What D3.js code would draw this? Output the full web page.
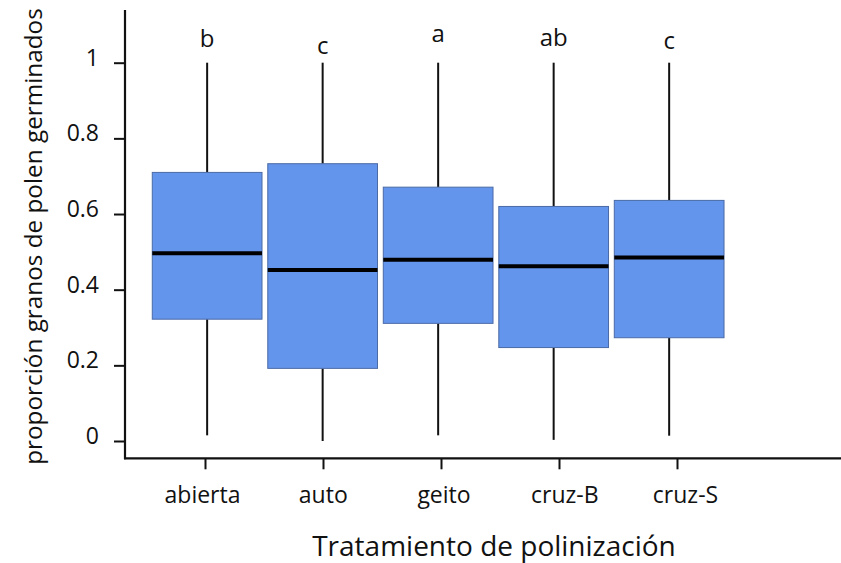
<!DOCTYPE html>
<html>
<head>
<meta charset="utf-8">
<script src="https://cdn.jsdelivr.net/npm/d3@7"></script>
<style>
  html, body { margin: 0; padding: 0; background: #fff; }
  svg { display: block; }
  text { font-family: "Open Sans", "Noto Sans", sans-serif; fill: #111; }
</style>
</head>
<body>
<svg id="chart" width="841" height="563"></svg>
<script>
// Treatments and box-plot summaries (proportion of germinated pollen grains)
const categories = ["abierta", "auto", "geito", "cruz-B", "cruz-S"];
const whiskerLow = [0.015, 0.0, 0.015, 0.003, 0.014];
const q1        = [0.322, 0.192, 0.311, 0.247, 0.273];
const medians   = [0.496, 0.452, 0.479, 0.462, 0.485];
const q3        = [0.710, 0.733, 0.671, 0.620, 0.636];
const whiskerHigh = [1.0, 1.0, 1.0, 1.0, 1.0];
const groupLetters = ["b", "c", "a", "ab", "c"];
const yTicks = [0, 0.2, 0.4, 0.6, 0.8, 1];

const rows = categories.map((c, i) => ({
  cat: c, lo: whiskerLow[i], q1: q1[i], med: medians[i], q3: q3[i], hi: whiskerHigh[i], letter: groupLetters[i]
}));

// baseline of each group letter (layout only)
const letterBaseline = [47, 54, 41.5, 46, 49];

const svg = d3.select("#chart");

const y = d3.scaleLinear().domain([0, 1]).range([441, 62.7]);
const x = d3.scaleBand().domain(categories).range([146.5, 729.8])
  .paddingInner(0.05).paddingOuter(0.05);
// tick marks and tick labels along the category axis
const xTickScale = d3.scalePoint().domain(categories).range([205, 677]);
const xLabelScale = d3.scalePoint().domain(categories).range([202, 685]);

const fill = "#6495ED";
const edge = "#4a6aa6";

// boxes
const g = svg.append("g");
const box = g.selectAll("g.box").data(rows).join("g").attr("class", "box");
const cx = d => x(d.cat) + x.bandwidth() / 2;

box.append("line")
  .attr("x1", cx).attr("x2", cx)
  .attr("y1", d => y(d.hi)).attr("y2", d => y(d.q3))
  .attr("stroke", "#111").attr("stroke-width", 2);
box.append("line")
  .attr("x1", cx).attr("x2", cx)
  .attr("y1", d => y(d.q1)).attr("y2", d => y(d.lo))
  .attr("stroke", "#111").attr("stroke-width", 2);
box.append("rect")
  .attr("x", d => x(d.cat)).attr("width", x.bandwidth())
  .attr("y", d => y(d.q3)).attr("height", d => y(d.q1) - y(d.q3))
  .attr("fill", fill).attr("stroke", edge).attr("stroke-width", 1);
box.append("line")
  .attr("x1", d => x(d.cat)).attr("x2", d => x(d.cat) + x.bandwidth())
  .attr("y1", d => y(d.med)).attr("y2", d => y(d.med))
  .attr("stroke", "#000").attr("stroke-width", 4);

// significance letters above each whisker
box.append("text")
  .attr("x", cx).attr("y", (d, i) => letterBaseline[i])
  .attr("text-anchor", "middle")
  .style("font-size", "24px")
  .text(d => d.letter);

// y axis
const yAxis = svg.append("g").attr("transform", "translate(125,0)")
  .call(d3.axisLeft(y).tickValues(yTicks).tickSize(11).tickPadding(15)
    .tickFormat(d => d === 0 ? "0" : d === 1 ? "1" : d3.format(".1f")(d)));
yAxis.select(".domain").remove();
yAxis.selectAll(".tick line").attr("stroke", "#111").attr("stroke-width", 2);
yAxis.selectAll(".tick text").style("font-size", "23px").attr("fill", "#111")
  .attr("dy", "0.32em").attr("y", -5);
svg.append("line").attr("x1", 125).attr("x2", 125).attr("y1", 10).attr("y2", 459.3)
  .attr("stroke", "#111").attr("stroke-width", 2.2);

// x axis: tick marks
const xAxis = svg.append("g").attr("transform", "translate(0,458.3)")
  .call(d3.axisBottom(xTickScale).tickSize(11).tickFormat(""));
xAxis.select(".domain").remove();
xAxis.selectAll(".tick line").attr("stroke", "#111").attr("stroke-width", 2);
// x axis: labels
const xLabels = svg.append("g").attr("transform", "translate(0,458.3)")
  .call(d3.axisBottom(xLabelScale).tickSize(0).tickPadding(28.4));
xLabels.select(".domain").remove();
xLabels.selectAll(".tick text").style("font-size", "23px").attr("fill", "#111");
svg.append("line").attr("x1", 124).attr("x2", 841).attr("y1", 458.3).attr("y2", 458.3)
  .attr("stroke", "#111").attr("stroke-width", 2.2);

// axis titles
svg.append("text")
  .attr("x", 494).attr("y", 555.7)
  .attr("text-anchor", "middle")
  .style("font-size", "28px")
  .text("Tratamiento de polinización");
svg.append("text")
  .attr("transform", "translate(41.5,236.5) rotate(-90)")
  .attr("text-anchor", "middle")
  .style("font-size", "24.3px")
  .text("proporción granos de polen germinados");
</script>
</body>
</html>
